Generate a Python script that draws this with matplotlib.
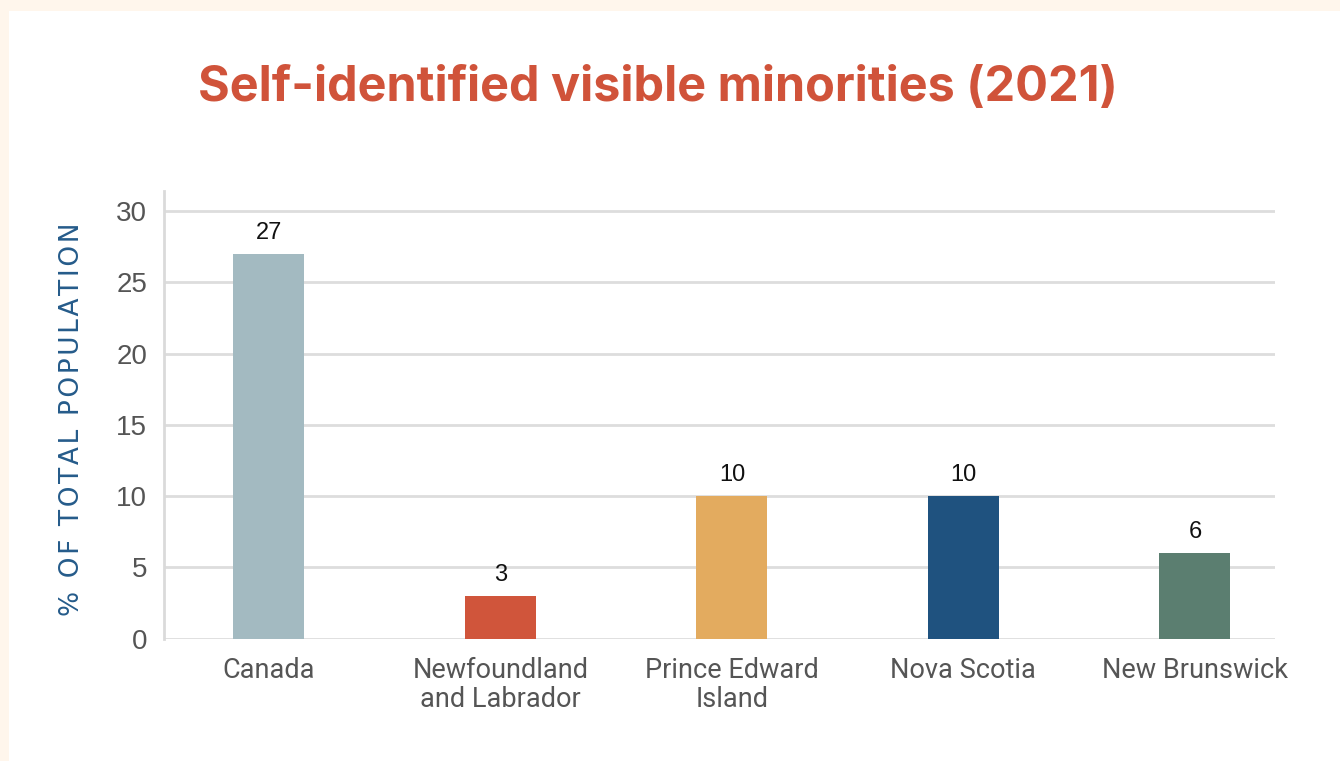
import matplotlib
matplotlib.use("Agg")
import matplotlib.pyplot as plt
from matplotlib.patches import Rectangle

# Data
categories = ["Canada", "Newfoundland\nand Labrador", "Prince Edward\nIsland", "Nova Scotia", "New Brunswick"]
values = [27, 3, 10, 10, 6]
bar_colors = ["#A3BAC1", "#D0553B", "#E3AB5F", "#1F527F", "#5B7E70"]
y_ticks = [0, 5, 10, 15, 20, 25, 30]
title = "Self-identified visible minorities (2021)"
y_label = "% OF TOTAL POPULATION"

W, H, DPI = 1340, 761, 100
fig = plt.figure(figsize=(W / DPI, H / DPI), dpi=DPI)
fig.patch.set_facecolor("#FFF6EC")

# white card with a thin cream margin at top and left
fig.patches.append(Rectangle((9 / W, 0), 1, 1 - 10.5 / H, transform=fig.transFigure,
                             facecolor="white", edgecolor="none", zorder=0))

ax = fig.add_axes([164 / W, 1 - 638.7 / H, (1275 - 164) / W, (638.7 - 191) / H])
ax.set_facecolor("white")
ax.set_zorder(1)

x = list(range(len(categories)))
bars = ax.bar(x, values, width=0.307, color=bar_colors, zorder=3)

for xi, v in zip(x, values):
    ax.annotate(f"{v}", (xi, v), xytext=(0, 7), textcoords="offset points",
                ha="center", va="bottom", fontsize=17, color="#111111",
                family="Liberation Sans")

ax.set_xlim(-0.453, 4.346)
ax.set_ylim(0, 31.4)
ax.set_yticks(y_ticks)
ax.set_yticklabels([str(t) for t in y_ticks], fontsize=20, color="#555555",
                   family="Liberation Sans")
ax.set_xticks(x)
ax.set_xticklabels(categories, fontsize=19.5, color="#555555", family="Roboto",
                   linespacing=1.1)
ax.tick_params(axis="both", length=0)
ax.tick_params(axis="y", pad=12)
ax.tick_params(axis="x", pad=13)

ax.grid(axis="y", color="#DDDDDD", linewidth=2, zorder=0)
ax.set_axisbelow(True)
for side in ["top", "right", "bottom"]:
    ax.spines[side].set_visible(False)
ax.spines["left"].set_color("#DADADA")
ax.spines["left"].set_linewidth(2)

spaced = "\u200a".join(y_label)
fig.text(72 / W, 1 - 419 / H, spaced, rotation=90, ha="center", va="center",
         fontsize=19, color="#255B8A", family="DejaVu Sans")

fig.text(658 / W, 1 - 88 / H, title, ha="center", va="center", fontsize=35,
         fontweight="bold", color="#D0533A", family="Inter")

fig.savefig("out.png", dpi=DPI, facecolor=fig.get_facecolor())
